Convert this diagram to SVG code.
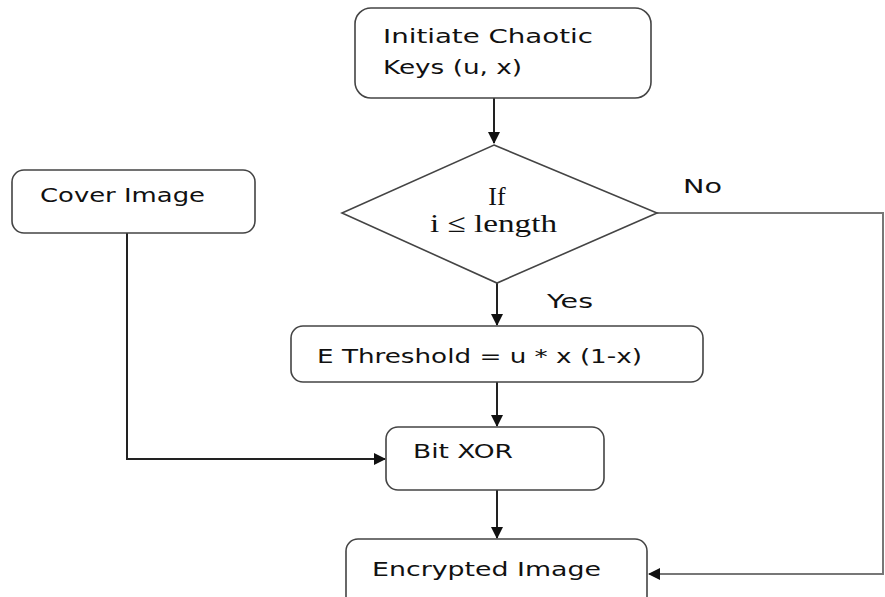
<svg xmlns="http://www.w3.org/2000/svg" width="885" height="597" viewBox="0 0 885 597">
<defs>
<marker id="arr" markerWidth="12" markerHeight="12" viewBox="0 0 12 12" refX="11" refY="6" orient="auto" markerUnits="userSpaceOnUse">
<path d="M0,0 L12,6 L0,12 Z" fill="#111"/>
</marker>
</defs>
<style>
.box{fill:#fff;stroke:#444;stroke-width:1.6}
.t{font-family:"DejaVu Sans","Open Sans",sans-serif;font-size:19px;fill:#111}
.s{font-family:"Liberation Serif","Times New Roman",serif;font-size:26px;fill:#111}
.c{fill:none;stroke:#222;stroke-width:2}
.g{fill:none;stroke:#777;stroke-width:2}
</style>
<rect width="885" height="597" fill="#fff"/>
<g id="connectors">
<path class="c" d="M494,98 V143" marker-end="url(#arr)"/>
<path class="c" d="M497,283 V325" marker-end="url(#arr)"/>
<path class="c" d="M497,382 V426" marker-end="url(#arr)"/>
<path class="c" d="M127,233 V459 H385" marker-end="url(#arr)"/>
<path class="c" d="M497,490 V538" marker-end="url(#arr)"/>
<path class="g" d="M657,213 H883 V574 H649" marker-end="url(#arr)"/>
<text class="t" x="683" y="193" textLength="39" lengthAdjust="spacingAndGlyphs">No</text>
<text class="t" x="547" y="308" textLength="46" lengthAdjust="spacingAndGlyphs">Yes</text>
</g>
<g id="initiate">
<rect class="box" x="355" y="8" width="296" height="90" rx="16"/>
<text class="t" x="383" y="43" textLength="210" lengthAdjust="spacingAndGlyphs">Initiate Chaotic</text>
<text class="t" x="383" y="74" textLength="139" lengthAdjust="spacingAndGlyphs">Keys (u, x)</text>
</g>
<g id="decision">
<polygon class="box" points="494,145 657,213 497,283 342,213"/>
<text class="s" x="497" y="205" text-anchor="middle">If</text>
<text class="s" x="430" y="232" textLength="127" lengthAdjust="spacingAndGlyphs">i ≤ length</text>
</g>
<g id="cover">
<rect class="box" x="12" y="170" width="243" height="63" rx="12"/>
<text class="t" x="40" y="202" textLength="165" lengthAdjust="spacingAndGlyphs">Cover Image</text>
</g>
<g id="threshold">
<rect class="box" x="291" y="326" width="412" height="56" rx="12"/>
<text class="t" x="317" y="363" textLength="325" lengthAdjust="spacingAndGlyphs">E Threshold = u *  x (1-x)</text>
</g>
<g id="bitxor">
<rect class="box" x="386" y="427" width="218" height="63" rx="12"/>
<text class="t" x="413" y="458" textLength="100" lengthAdjust="spacingAndGlyphs">Bit XOR</text>
</g>
<g id="encrypted">
<rect class="box" x="346" y="539" width="301" height="70" rx="12"/>
<text class="t" x="372" y="576" textLength="229" lengthAdjust="spacingAndGlyphs">Encrypted Image</text>
</g>
</svg>
